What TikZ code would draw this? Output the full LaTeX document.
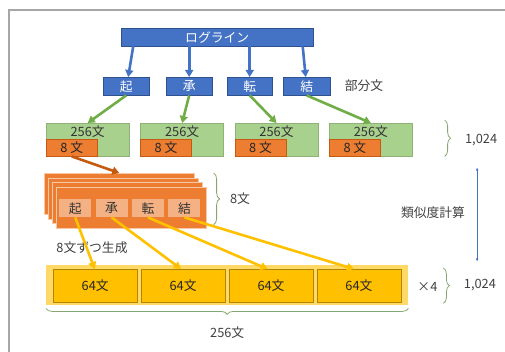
\documentclass[tikz,border=0pt]{standalone}
\usepackage{fontspec}
\setmainfont{Noto Sans CJK JP}
\usetikzlibrary{arrows.meta,positioning,decorations.pathreplacing}

\definecolor{blu}{HTML}{4472C4}
\definecolor{bluedge}{HTML}{2F528F}
\definecolor{grn}{HTML}{A9D18E}
\definecolor{grnarr}{HTML}{70AD47}
\definecolor{org}{HTML}{ED7D31}
\definecolor{orgarr}{HTML}{C55A11}
\definecolor{salmon}{HTML}{F4B183}
\definecolor{ylw}{HTML}{FFC000}
\definecolor{band}{HTML}{FFD966}
\definecolor{txt}{HTML}{404040}
\definecolor{frm}{HTML}{A6A6A6}

\tikzset{
	x=1pt, y=-1pt,
	every node/.style={font=\fontsize{12.8}{14}\selectfont, text=txt},
	bluebox/.style={draw=bluedge, fill=blu, text=white, inner sep=0, minimum height=18, anchor=north west},
	grnbox/.style={fill=grn, draw=grn!85!black, line width=0.4pt, inner sep=0, minimum width=83, minimum height=33, anchor=north west},
	orgbox/.style={fill=org, draw=orgarr, line width=0.4pt, inner sep=0, minimum width=51, minimum height=17, anchor=south west, text=black!85},
	stackbox/.style={fill=org, draw=salmon!70!white, line width=0.6pt, inner sep=0, minimum width=150, minimum height=41, anchor=north west},
	cellbox/.style={fill=salmon, inner sep=0, minimum width=32, minimum height=18, anchor=north west, text=black!80},
	ylwbox/.style={fill=ylw, draw=ylw!70!black, line width=0.4pt, inner sep=0, minimum width=84, minimum height=33, anchor=north west, text=black!85},
	arr/.style={line width=2.6pt, -{Triangle[length=7pt,width=8pt]}},
	brc/.style={decorate, decoration={brace, amplitude=6pt}, draw=grn!80!black, line width=0.8pt},
}

\begin{document}
\begin{tikzpicture}
	\useasboundingbox (0,0) rectangle (505,352);
	\draw[frm, line width=1.5pt] (9,352) -- (9,10) -- (505,10);

	% log line and parts
	\node[bluebox, minimum width=192] (log) at (121,28) {ログライン};
	\node[bluebox, minimum width=46] (k1) at (103,77) {起};
	\node[bluebox, minimum width=46] (k2) at (166,77) {承};
	\node[bluebox, minimum width=45] (k3) at (227,77) {転};
	\node[bluebox, minimum width=47] (k4) at (283,77) {結};
	\node (bu) at (364,86) {部分文};
	\draw[arr, blu] ([xshift=7]log.south -| k1.north) -- ([xshift=2]k1.north);
	\draw[arr, blu] (log.south -| k2.north) -- (k2.north);
	\draw[arr, blu] (log.south -| k3.north) -- (k3.north);
	\draw[arr, blu] ([xshift=-4]log.south -| k4.north) -- ([xshift=-1]k4.north);

	% 256 sentences each
	\node[grnbox] (g1) at (46,123) {};
	\node[grnbox, right=11 of g1] (g2) {};
	\node[grnbox, right=11 of g2] (g3) {};
	\node[grnbox, right=11 of g3] (g4) {};
	\foreach \i in {1,...,4} {
		\node[text=black!80] at ([yshift=-9]g\i.north) {256文};
		\node[orgbox] (o\i) at (g\i.south west) {8 文};
		\draw[arr, grnarr] (k\i.south) -- (g\i.north);
	}
	\draw[brc] ([xshift=32,yshift=3]g4.north east) -- ([xshift=32]g4.south east);
	\node[anchor=west] (n1) at ([xshift=49]g4.east) {1,024};

	% stack of 8
	\foreach \i in {0,...,3}
		\node[stackbox] (st\i) at (44+4*\i,173+4.7*\i) {};
	\node[cellbox] (c1) at (59,199) {起};
	\node[cellbox, right=4 of c1] (c2) {承};
	\node[cellbox, right=4 of c2] (c3) {転};
	\node[cellbox, right=4 of c3] (c4) {結};
	\draw[arr, orgarr] (o1.south) -- (st0.north);
	\draw[brc] ([xshift=7]st3.east |- st0.north) -- ([xshift=7,yshift=4]st3.south east);
	\node (e8) at (240,199) {8文};
	\node (gen) at (92,248) {8文ずつ生成};

	% 64 sentences x 4
	\node[fill=band, inner sep=0, minimum width=362, minimum height=40, anchor=north west] (band) at (46,265) {};
	\node[ylwbox] (y1) at (53,269) {64文};
	\node[ylwbox, right=3.5 of y1] (y2) {64文};
	\node[ylwbox, right=3.5 of y2] (y3) {64文};
	\node[ylwbox, right=3.5 of y3] (y4) {64文};
	\foreach \i in {1,...,4}
		\draw[arr, ylw] (c\i.south) -- ([xshift=-1.5*\i+1]y\i.north);
	\draw[brc] ([yshift=-3]band.south east) -- ([yshift=-3]band.south west);
	\node (b256) at ([yshift=-27]band.south) {256文};
	\node (x4) at ([xshift=19,yshift=-2]band.east) {×4};
	\draw[brc] ([xshift=35,yshift=-3]band.north east) -- ([xshift=35,yshift=2]band.south east);
	\node[anchor=west] (n2) at ([xshift=52]band.east) {1,024};

	% similarity
	\draw[blu, line width=0.9pt, {Latex[length=3.5pt]}-{Latex[length=3.5pt]}] ([xshift=-4,yshift=-18]n1.south) -- ([xshift=-4,yshift=14]n1.south |- n2.north);
	\node (sim) at (433,213) {類似度計算};
\end{tikzpicture}
\end{document}
